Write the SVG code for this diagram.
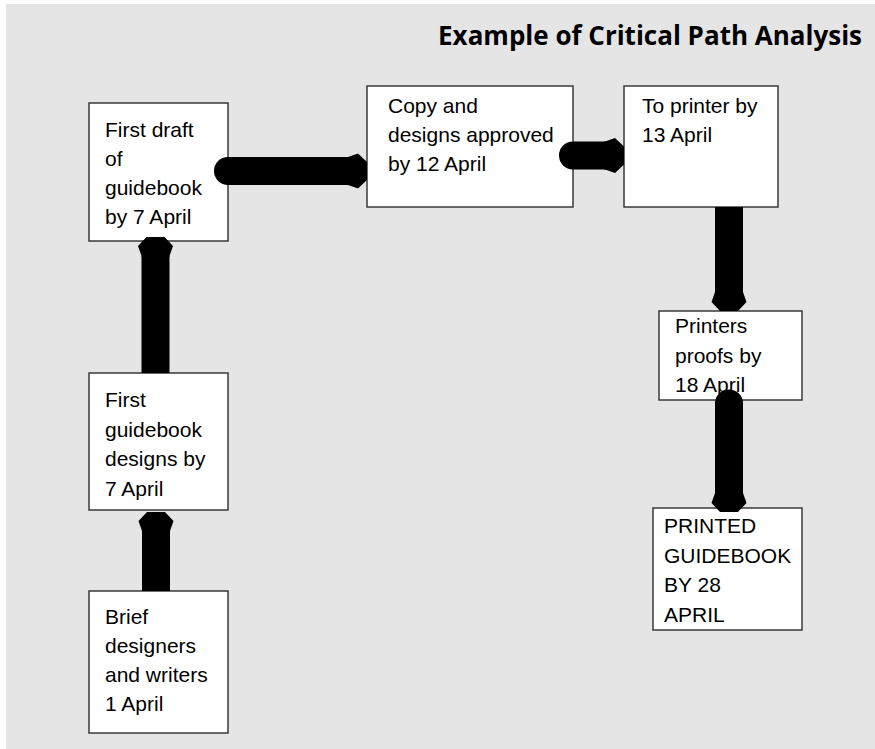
<svg xmlns="http://www.w3.org/2000/svg" width="875" height="749" viewBox="0 0 875 749">
  <style>
    .box { fill: #ffffff; stroke: #3a3a3a; stroke-width: 1.5; }
    .lbl { font-family: "Liberation Sans", Arial, sans-serif; font-size: 21px; fill: #000000; }
    .title { font-family: "Open Sans", "Liberation Sans", sans-serif; font-weight: bold; font-size: 26px; fill: #000000; }
    .link { fill: none; stroke: #000000; stroke-width: 28; marker-end: url(#flare); }
    .round { stroke-linecap: round; }
    .flat { stroke-linecap: butt; }
  </style>
  <defs>
    <!-- flared end-piece placed after the last vertex of each link -->
    <marker id="flare" markerUnits="userSpaceOnUse" orient="auto" refX="0" refY="0" markerWidth="40" markerHeight="40" overflow="visible">
      <polygon points="-1,-14 0,-14 10,-17.5 19,-9 19,9 10,17.5 0,14 -1,14" fill="#000000"/>
    </marker>
  </defs>

  <!-- panel -->
  <rect x="6" y="4" width="869" height="745" fill="#e5e5e5"/>

  <text class="title" x="862" y="45" text-anchor="end">Example of Critical Path Analysis</text>

  <!-- activity boxes -->
  <g id="n-first-draft">
    <rect class="box" x="89" y="103" width="139" height="138"/>
    <text class="lbl" x="105" y="137">First draft</text>
    <text class="lbl" x="105" y="166">of</text>
    <text class="lbl" x="105" y="195">guidebook</text>
    <text class="lbl" x="105" y="224">by 7 April</text>
  </g>
  <g id="n-copy-approved">
    <rect class="box" x="367" y="86" width="206" height="121"/>
    <text class="lbl" x="388" y="113">Copy and</text>
    <text class="lbl" x="388" y="142">designs approved</text>
    <text class="lbl" x="388" y="171">by 12 April</text>
  </g>
  <g id="n-to-printer">
    <rect class="box" x="624" y="86" width="154" height="121"/>
    <text class="lbl" x="642" y="113">To printer by</text>
    <text class="lbl" x="642" y="142">13 April</text>
  </g>
  <g id="n-proofs">
    <rect class="box" x="659" y="311" width="143" height="89"/>
    <text class="lbl" x="675" y="333">Printers</text>
    <text class="lbl" x="675" y="363">proofs by</text>
    <text class="lbl" x="675" y="392">18 April</text>
  </g>
  <g id="n-printed">
    <rect class="box" x="653" y="508" width="149" height="122"/>
    <text class="lbl" x="664" y="533">PRINTED</text>
    <text class="lbl" x="664" y="563">GUIDEBOOK</text>
    <text class="lbl" x="664" y="592">BY 28</text>
    <text class="lbl" x="664" y="622">APRIL</text>
  </g>
  <g id="n-designs">
    <rect class="box" x="89" y="373" width="139" height="137"/>
    <text class="lbl" x="105" y="407">First</text>
    <text class="lbl" x="105" y="437">guidebook</text>
    <text class="lbl" x="105" y="466">designs by</text>
    <text class="lbl" x="105" y="496">7 April</text>
  </g>
  <g id="n-brief">
    <rect class="box" x="89" y="591" width="139" height="142"/>
    <text class="lbl" x="105" y="624">Brief</text>
    <text class="lbl" x="105" y="653">designers</text>
    <text class="lbl" x="105" y="682">and writers</text>
    <text class="lbl" x="105" y="711">1 April</text>
  </g>

  <!-- critical path links -->
  <g id="links">
    <path class="link flat" d="M156,591 V531"/>
    <path class="link flat" d="M155.5,373 V256"/>
    <path class="link round" d="M228,171 H348"/>
    <path class="link round" d="M573,155.5 H605"/>
    <path class="link flat" d="M729,207 V292"/>
    <path class="link round" d="M729,403.5 V493"/>
  </g>
</svg>
